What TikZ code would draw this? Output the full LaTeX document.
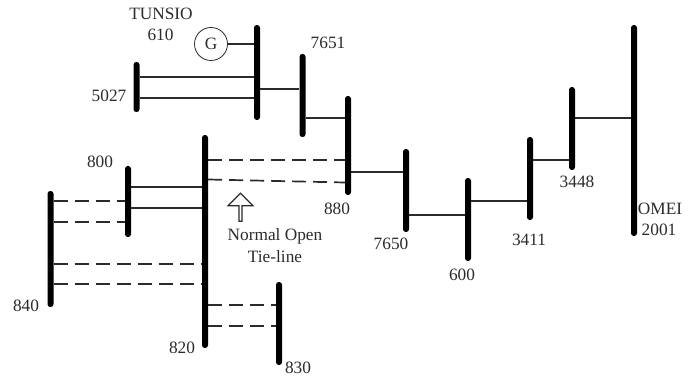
\documentclass[tikz,border=0pt]{standalone}
\usepackage{fontspec}
\setmainfont{Liberation Serif}
\usetikzlibrary{shapes.arrows}
\definecolor{ink}{HTML}{2B2B2B}

\begin{document}
\begin{tikzpicture}[x=1pt, y=-1pt, every node/.style={font=\fontsize{17.3}{20}\selectfont, text=ink, inner sep=0pt}, bus/.style={fill=black, rounded corners=2.8pt, minimum width=6pt, minimum height=#1}, tie/.style={line width=1.7pt, ink}, open/.style={tie, dash pattern=on 14pt off 7pt}]
\useasboundingbox (0,0) rectangle (694,377);
\node[bus=95] (bus610) at (257,72.5) {};
\node[bus=50] (bus5027) at (136.5,87) {};
\node[bus=83] (bus7651) at (302.5,95.5) {};
\node[bus=99] (bus880) at (348,145.5) {};
\node[bus=83] (bus7650) at (406,190.5) {};
\node[bus=83] (bus600) at (468,219.5) {};
\node[bus=83] (bus3411) at (530,178.5) {};
\node[bus=83] (bus3448) at (572,128.5) {};
\node[bus=211] (bus2001) at (634,130.5) {};
\node[bus=213] (bus820) at (205,241.5) {};
\node[bus=71] (bus800) at (128,201.5) {};
\node[bus=116] (bus840) at (50.5,249) {};
\node[bus=83] (bus830) at (279,323.5) {};
\node[draw=ink, line width=0.8pt, circle, minimum size=33pt] (gen) at (211,44) {G};
\node (tunsio) at (161,14) {TUNSIO};
\node (lab610) at (160.5,35) {610};
\node (lab7651) at (328,43) {7651};
\node (lab5027) at (109,95.5) {5027};
\node (lab800) at (100,162) {800};
\node (lab840) at (26,306) {840};
\node (lab820) at (182,348) {820};
\node (lab830) at (298,368) {830};
\node (lab880) at (337,209) {880};
\node (lab7650) at (391,244) {7650};
\node (lab600) at (462,275) {600};
\node (lab3411) at (529,240) {3411};
\node (lab3448) at (577,182) {3448};
\node (omei) at (660,209) {OMEI};
\node (lab2001) at (659,230) {2001};
\node (normal) at (275,236) {Normal Open};
\node (tieline) at (275,257) {Tie-line};
\node[draw=ink, line width=1.1pt, single arrow, rotate=90, minimum height=28pt, minimum width=25pt, single arrow head extend=4pt, single arrow head indent=0pt] (openarrow) at (240.5,208) {};
\draw[tie] (gen.east)--(bus610.west |- gen.east);
\draw[tie] (bus5027.east |- 0,77)--(bus610.west |- 0,77);
\draw[tie] (bus5027.east |- 0,98)--(bus610.west |- 0,98);
\draw[tie] (bus610.east |- 0,89)--(bus7651.west |- 0,89);
\draw[tie] (bus7651.east |- 0,118)--(bus880.west |- 0,118);
\draw[tie] (bus880.east |- 0,172)--(bus7650.west |- 0,172);
\draw[tie] (bus7650.east |- 0,215)--(bus600.west |- 0,215);
\draw[tie] (bus600.east |- 0,201)--(bus3411.west |- 0,201);
\draw[tie] (bus3411.east |- 0,160)--(bus3448.west |- 0,160);
\draw[tie] (bus3448.east |- 0,118)--(bus2001.west |- 0,118);
\draw[tie] (bus800.east |- 0,187)--(bus820.west |- 0,187);
\draw[tie] (bus800.east |- 0,208)--(bus820.west |- 0,208);
\draw[open] (bus820.east |- 0,160)--(bus880.west |- 0,160);
\draw[open] (bus820.east |- 0,179.5)--(bus880.west |- 0,182.5);
\draw[open] (bus840.east |- 0,201)--(bus800.west |- 0,201);
\draw[open] (bus840.east |- 0,222)--(bus800.west |- 0,222);
\draw[open] (bus840.east |- 0,264)--(bus820.west |- 0,264);
\draw[open] (bus840.east |- 0,284)--(bus820.west |- 0,284);
\draw[open] (bus820.east |- 0,305)--(bus830.west |- 0,305);
\draw[open] (bus820.east |- 0,326)--(bus830.west |- 0,326);
\end{tikzpicture}
\end{document}
